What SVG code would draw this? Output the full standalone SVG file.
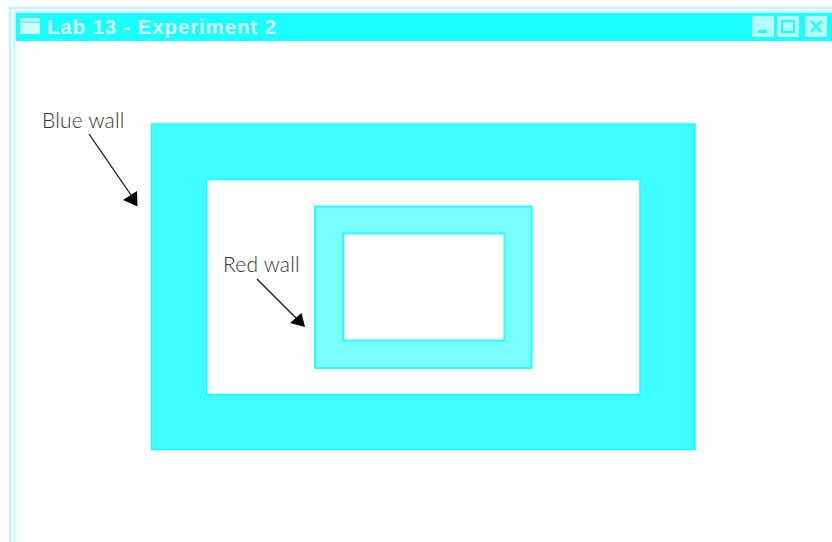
<svg xmlns="http://www.w3.org/2000/svg" width="832" height="542" viewBox="0 0 832 542">
<style>
.lab{font-family:"Lato","Liberation Sans",sans-serif;font-size:21px;fill:#333;font-weight:300;letter-spacing:.2px}
.title{font-family:"Liberation Sans",sans-serif;font-size:20.500px;font-weight:bold;fill:#d8ffff;letter-spacing:.85px}
.line{stroke:#111;stroke-width:1.3;fill:none}
.head{fill:#000}
.btn{fill:#b4ffff}
</style>
<rect width="832" height="542" fill="#fff"/>
<g id="window">
<rect x="9" y="7" width="823" height="2" fill="#b0ffff"/>
<rect x="9" y="7" width="2" height="535" fill="#b0ffff"/>
<rect x="13" y="11" width="819" height="2" fill="#c8ffff"/>
<rect x="13" y="11" width="3" height="531" fill="#c8ffff"/>
<rect x="16" y="13" width="816" height="28" fill="#1affff"/>
</g>
<g id="titlebar">
<rect x="20" y="18" width="20" height="16" fill="#ccffff"/>
<rect x="20" y="21" width="20" height="2" fill="#66ffff"/>
<text class="title" x="47" y="34">Lab 13 - Experiment 2</text>
<rect class="btn" x="752" y="16" width="22" height="21"/>
<rect x="758" y="30" width="9" height="3" fill="#1affff"/>
<rect class="btn" x="777" y="16" width="22" height="21"/>
<rect x="782" y="21" width="12" height="11" fill="none" stroke="#1affff" stroke-width="2"/>
<rect class="btn" x="805" y="16" width="22" height="21"/>
<path d="M811 21L821 32M821 21L811 32" stroke="#1affff" stroke-width="2.400" fill="none"/>
</g>
<g id="blue-wall">
<path fill-rule="evenodd" d="M151.500 124H695V449.500H151.500ZM206.500 179.500V394.500H640V179.500Z" fill="#3fffff" stroke="#19ffff" stroke-width="1.500"/>
</g>
<g id="red-wall">
<path fill-rule="evenodd" d="M315 206.500H531.500V368H315ZM343 233.500V340.500H504.500V233.500Z" fill="#7affff" stroke="#2affff" stroke-width="2"/>
</g>
<g id="blue-wall-label">
<text class="lab" x="42" y="128">Blue wall</text>
</g>
<g id="red-wall-label">
<text class="lab" x="223" y="272">Red wall</text>
</g>
<g id="connectors">
<path class="line" d="M89 134L131 195"/>
<path class="head" d="M123 200L137 191L137.500 206.500Z"/>
<path class="line" d="M257 279L297 319"/>
<path class="head" d="M290 323L301.500 313L305 327Z"/>
</g>
</svg>
